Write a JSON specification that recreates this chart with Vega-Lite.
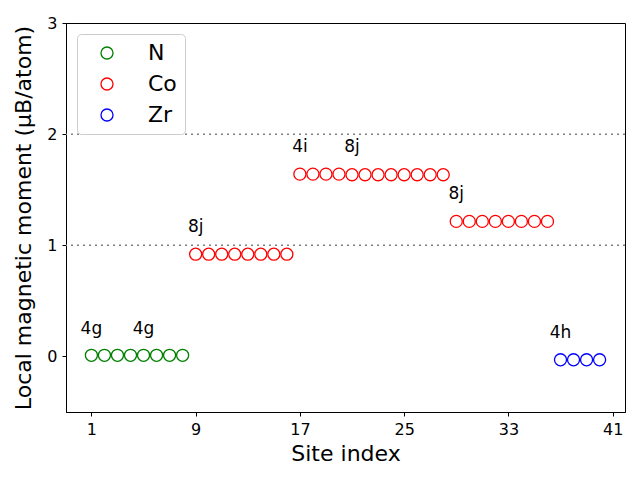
{
  "$schema": "https://vega.github.io/schema/vega-lite/v6.json",
  "width": 559,
  "height": 389,
  "autosize": {"type": "none"},
  "padding": {"left": 66, "top": 23, "right": 15, "bottom": 68},
  "background": "white",
  "config": {
    "font": "DejaVu Sans",
    "view": {"stroke": "black", "strokeWidth": 1},
    "axis": {
      "grid": false,
      "domainColor": "black",
      "tickColor": "black",
      "tickSize": 4,
      "labelColor": "black",
      "titleColor": "black",
      "labelFont": "DejaVu Sans",
      "titleFont": "DejaVu Sans",
      "labelFontSize": 16,
      "titleFontSize": 22,
      "titleFontWeight": "normal",
      "labelPadding": 5
    }
  },
  "layer": [
    {
      "mark": {"type": "rule", "color": "#808080", "strokeWidth": 1.5},
      "encoding": {"y": {"datum": 0, "type": "quantitative"}}
    },
    {
      "data": {"values": [{"level": 1}, {"level": 2}]},
      "mark": {"type": "rule", "color": "#808080", "strokeWidth": 1.5, "strokeDash": [2, 4]},
      "encoding": {"y": {"field": "level", "type": "quantitative"}}
    },
    {
      "data": {"values": [
        {"site": 1, "moment": 0.01, "element": "N"},
        {"site": 2, "moment": 0.01, "element": "N"},
        {"site": 3, "moment": 0.01, "element": "N"},
        {"site": 4, "moment": 0.01, "element": "N"},
        {"site": 5, "moment": 0.01, "element": "N"},
        {"site": 6, "moment": 0.01, "element": "N"},
        {"site": 7, "moment": 0.01, "element": "N"},
        {"site": 8, "moment": 0.01, "element": "N"},
        {"site": 9, "moment": 0.92, "element": "Co"},
        {"site": 10, "moment": 0.92, "element": "Co"},
        {"site": 11, "moment": 0.92, "element": "Co"},
        {"site": 12, "moment": 0.92, "element": "Co"},
        {"site": 13, "moment": 0.92, "element": "Co"},
        {"site": 14, "moment": 0.92, "element": "Co"},
        {"site": 15, "moment": 0.92, "element": "Co"},
        {"site": 16, "moment": 0.92, "element": "Co"},
        {"site": 17, "moment": 1.64, "element": "Co"},
        {"site": 18, "moment": 1.64, "element": "Co"},
        {"site": 19, "moment": 1.64, "element": "Co"},
        {"site": 20, "moment": 1.64, "element": "Co"},
        {"site": 21, "moment": 1.635, "element": "Co"},
        {"site": 22, "moment": 1.635, "element": "Co"},
        {"site": 23, "moment": 1.635, "element": "Co"},
        {"site": 24, "moment": 1.635, "element": "Co"},
        {"site": 25, "moment": 1.635, "element": "Co"},
        {"site": 26, "moment": 1.635, "element": "Co"},
        {"site": 27, "moment": 1.635, "element": "Co"},
        {"site": 28, "moment": 1.635, "element": "Co"},
        {"site": 29, "moment": 1.215, "element": "Co"},
        {"site": 30, "moment": 1.215, "element": "Co"},
        {"site": 31, "moment": 1.215, "element": "Co"},
        {"site": 32, "moment": 1.215, "element": "Co"},
        {"site": 33, "moment": 1.215, "element": "Co"},
        {"site": 34, "moment": 1.215, "element": "Co"},
        {"site": 35, "moment": 1.215, "element": "Co"},
        {"site": 36, "moment": 1.215, "element": "Co"},
        {"site": 37, "moment": -0.03, "element": "Zr"},
        {"site": 38, "moment": -0.03, "element": "Zr"},
        {"site": 39, "moment": -0.03, "element": "Zr"},
        {"site": 40, "moment": -0.03, "element": "Zr"}
      ]},
      "mark": {"type": "point", "shape": "circle", "filled": false, "size": 145, "strokeWidth": 1.3, "opacity": 1},
      "encoding": {
        "x": {
          "field": "site", "type": "quantitative",
          "scale": {"domain": [-0.95, 41.95], "nice": false, "zero": false},
          "axis": {"values": [1, 9, 17, 25, 33, 41], "format": "d", "title": "Site index", "titlePadding": 6}
        },
        "y": {
          "field": "moment", "type": "quantitative",
          "scale": {"domain": [-0.5, 3], "nice": false, "zero": false},
          "axis": {"values": [0, 1, 2, 3], "format": "d", "title": "Local magnetic moment (μB/atom)", "titlePadding": 11}
        },
        "color": {
          "field": "element", "type": "nominal",
          "scale": {"domain": ["N", "Co", "Zr"], "range": ["#008000", "#ff0000", "#0000ff"]},
          "legend": {
            "title": null,
            "orient": "none",
            "legendX": 11,
            "legendY": 11,
            "padding": 8,
            "fillColor": "white",
            "strokeColor": "#cccccc",
            "cornerRadius": 4,
            "labelFontSize": 22,
            "labelFont": "DejaVu Sans",
            "labelColor": "black",
            "labelOffset": 30,
            "symbolOffset": 11,
            "symbolSize": 145,
            "symbolStrokeWidth": 1.3,
            "symbolType": "circle",
            "symbolFillColor": "transparent",
            "rowPadding": 9
          }
        }
      }
    },
    {
      "data": {"values": [
        {"site": 1, "pos": 0.2, "label": "4g"},
        {"site": 5, "pos": 0.2, "label": "4g"},
        {"site": 9, "pos": 1.12, "label": "8j"},
        {"site": 17, "pos": 1.84, "label": "4i"},
        {"site": 21, "pos": 1.84, "label": "8j"},
        {"site": 29, "pos": 1.42, "label": "8j"},
        {"site": 37, "pos": 0.17, "label": "4h"}
      ]},
      "mark": {"type": "text", "align": "center", "baseline": "alphabetic", "fontSize": 17, "font": "DejaVu Sans", "color": "black"},
      "encoding": {
        "x": {"field": "site", "type": "quantitative"},
        "y": {"field": "pos", "type": "quantitative"},
        "text": {"field": "label"}
      }
    }
  ]
}
